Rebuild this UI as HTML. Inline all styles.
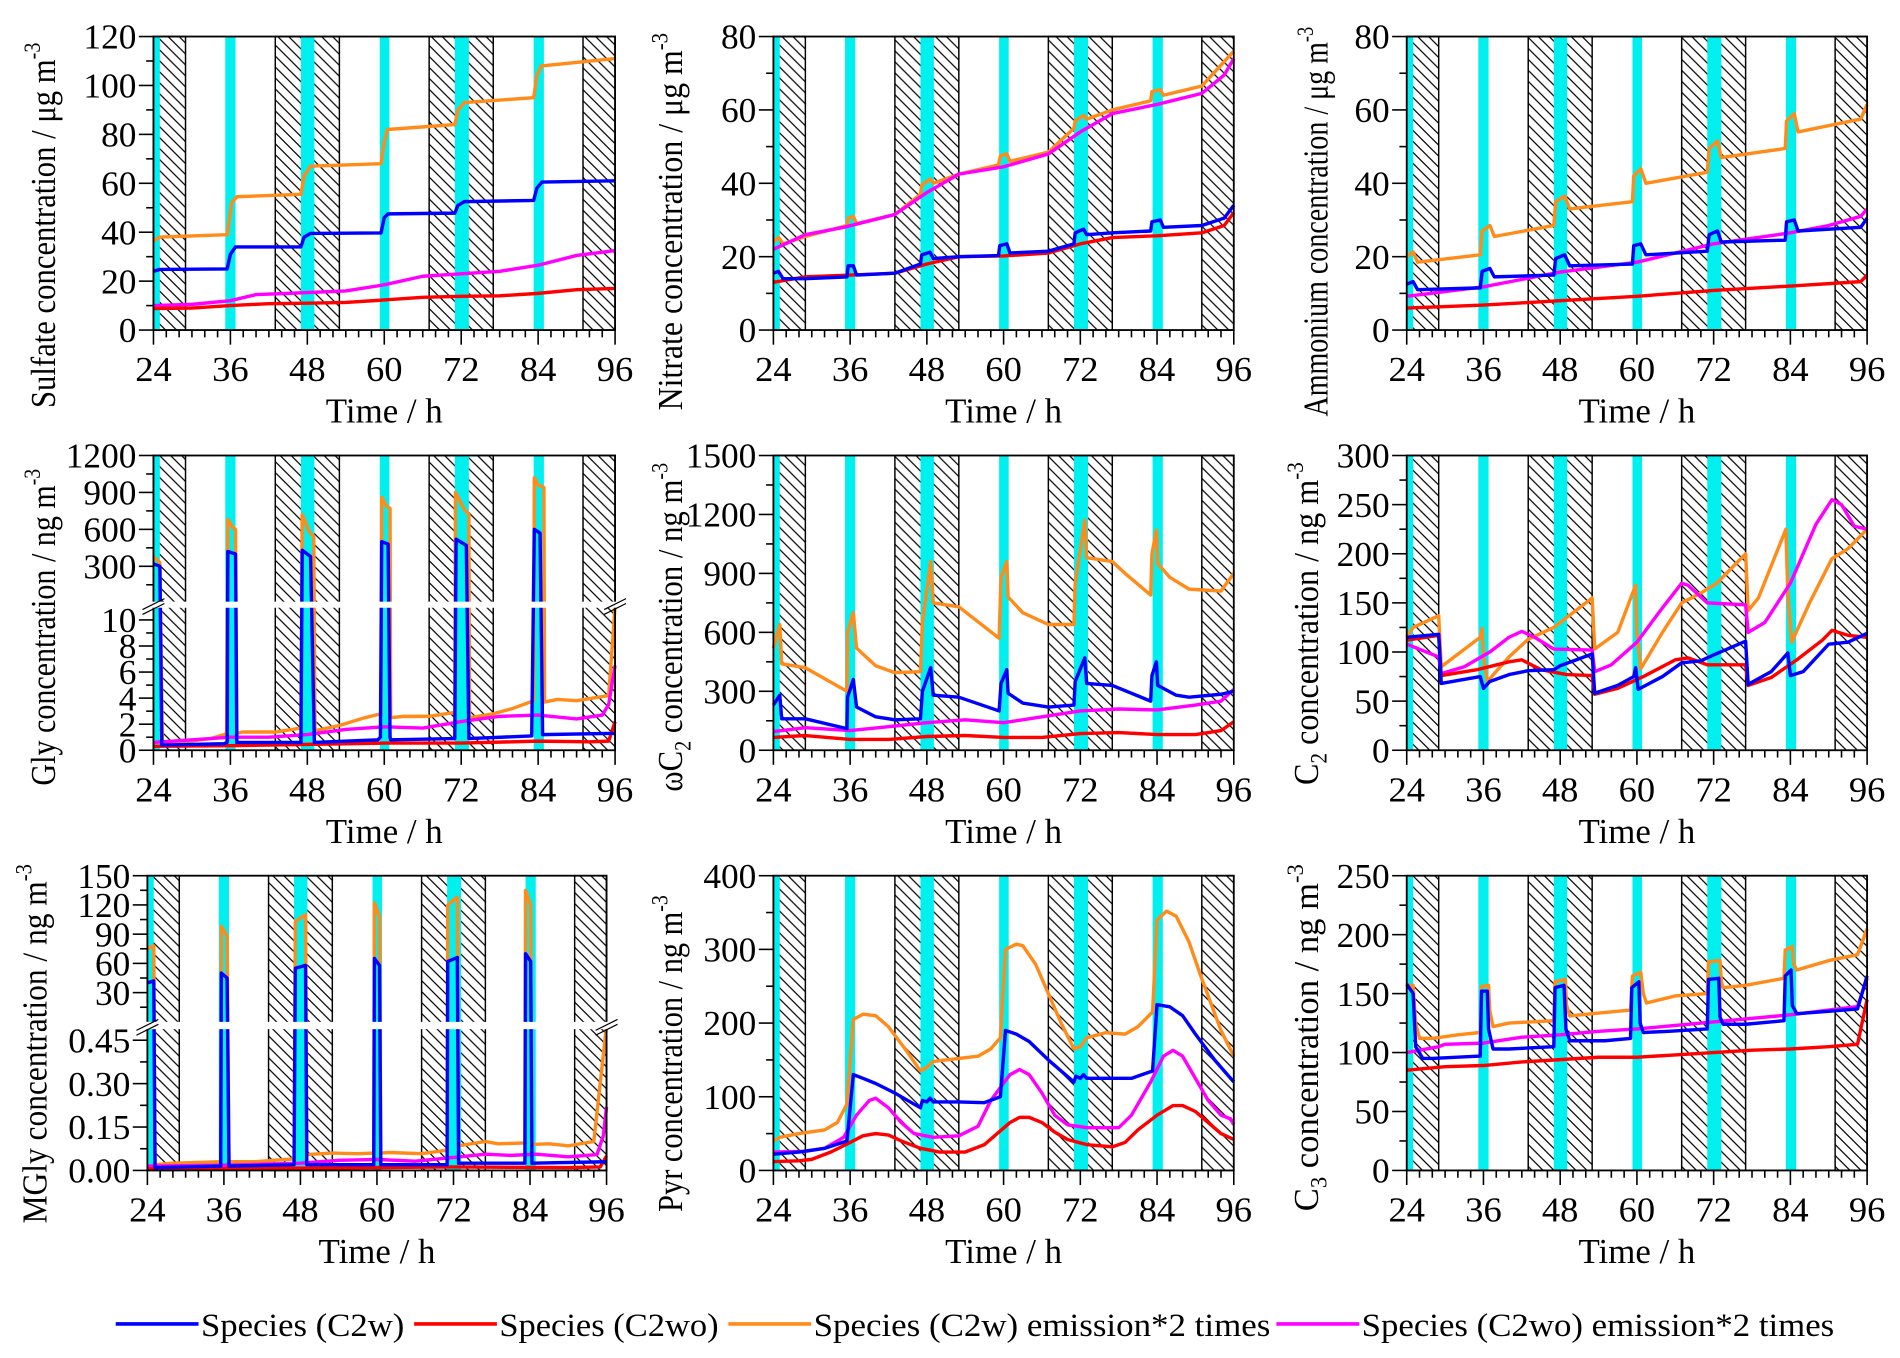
<!DOCTYPE html>
<html><head><meta charset="utf-8"><style>
html,body{margin:0;padding:0;background:#fff;}
svg{display:block;}
text{font-family:"Liberation Serif",serif;fill:#000;}
</style></head><body>
<svg id="fig" width="1900" height="1358" viewBox="0 0 1560 1115" xmlns="http://www.w3.org/2000/svg">
<defs>
<pattern id="hatch" patternUnits="userSpaceOnUse" width="9" height="9">
<path d="M-2,-2 L11,11 M-11,-2 L2,11 M7,-2 L20,11" stroke="#000" stroke-width="1"/>
</pattern>
</defs>
<g id="panels"></g>
<g id="legend">
<line x1="95" y1="1087" x2="163" y2="1087" stroke="#0000ff" stroke-width="3"/>
<text x="165" y="1097" font-size="27" textLength="167" lengthAdjust="spacingAndGlyphs">Species (C2w)</text>
<line x1="340" y1="1087" x2="408" y2="1087" stroke="#ff0000" stroke-width="3"/>
<text x="410" y="1097" font-size="27" textLength="180" lengthAdjust="spacingAndGlyphs">Species (C2wo)</text>
<line x1="598" y1="1087" x2="666" y2="1087" stroke="#ff8c1a" stroke-width="3"/>
<text x="668" y="1097" font-size="27" textLength="375" lengthAdjust="spacingAndGlyphs">Species (C2w) emission*2 times</text>
<line x1="1048" y1="1087" x2="1116" y2="1087" stroke="#ff00ff" stroke-width="3"/>
<text x="1118" y="1097" font-size="27" textLength="388" lengthAdjust="spacingAndGlyphs">Species (C2wo) emission*2 times</text>
</g>
</svg>
<script>
// Shading periods (hours)
const nightPeriods = [[24,29],[43,53],[67,77],[91,96]];
const lightPeriods = [[24,25],[35.2,36.8],[47,49.1],[59.3,60.8],[71,73.2],[83.3,84.9]];
const xTickLabels = [24,36,48,60,72,84,96];

// Sulfate
const sulfate_c2w = [[24,24],[25,24.8],[35.5,25],[36,31],[36.8,34],[47,34],[47.5,38],[48.5,39.5],[59.5,39.7],[60,46],[60.6,47.5],[71,47.8],[71.5,51],[72.5,52.5],[83.3,53],[83.8,58],[84.6,60.5],[96,61]];
const sulfate_c2wo = [[24,8.8],[30,9],[36,10],[42,10.8],[48,11],[54,11.3],[60,12.3],[66,13.4],[72,13.8],[78,14],[84,15],[90,16.5],[96,17]];
const sulfate_c2w_e2 = [[24,36.5],[25,38],[35.5,39],[36.2,52],[37,54.5],[47,55.5],[47.5,63],[48.5,67],[59.5,68],[60,77],[60.5,82],[71,84],[71.5,90],[72.5,93],[83.3,95],[83.8,104],[84.5,108],[96,111]];
const sulfate_c2wo_e2 = [[24,10],[30,10.5],[36,12],[40,14.5],[45,15],[54,16],[60,18.5],[66,22],[72,23],[78,24],[84,26.5],[90,30.5],[96,32.5]];
const sulfate_yticks = [0,20,40,60,80,100,120];

// Nitrate
const nitrate_c2w = [[24,15.5],[24.8,16],[25.5,14],[29,14],[35.5,14.5],[35.7,17.5],[36.5,17.5],[37,15],[43,15.5],[47,18],[47.2,20.5],[48.5,21.2],[49,19.5],[53,20],[59.2,20.3],[59.4,23],[60.5,23.5],[61,21],[67,21.5],[71,23.5],[71.2,26.5],[72.5,27.5],[73,26],[77,26.5],[83,27],[83.2,29.5],[84.5,30],[85,28],[91,28.5],[94.5,30.5],[96,34]];
const nitrate_c2wo = [[24,13],[29,14.5],[36,15],[43,15.5],[48,18],[53,20],[60,20.2],[67,21],[72,23.5],[77,25.2],[84,25.7],[91,26.5],[94.5,28.5],[96,32]];
const nitrate_c2w_e2 = [[24,24],[24.8,25.3],[25.5,23.5],[29,25.5],[35.5,28.5],[35.7,30.5],[36.5,31],[37,29],[43,31.5],[47,37],[47.2,39.5],[48.5,41.2],[49,40],[53,42.5],[59.2,45],[59.5,47.5],[60.5,48],[61,46],[67,48.5],[71,55],[71.2,57],[72.5,58.5],[73,57.5],[77,60],[83,62.5],[83.2,65],[84.5,65.5],[85,64],[91,66.5],[96,76]];
const nitrate_c2wo_e2 = [[24,22],[29,26],[35,28],[43,31.5],[48,37.5],[53,42.5],[60,44.5],[67,48],[72,54],[77,59],[84,61.5],[91,64.5],[94.5,69.5],[96,74]];
const nitrate_yticks = [0,20,40,60,80];

// Ammonium
const ammonium_c2w = [[24,12.5],[25,13.2],[25.7,11],[35.5,11.5],[35.8,16],[37,16.8],[37.7,14.5],[47,15],[47.3,19.5],[48.7,20.5],[49.5,17.5],[59.3,18],[59.5,23],[60.6,23.5],[61.4,20.5],[71,21.5],[71.3,26],[72.6,27],[73.2,24],[83.2,24.5],[83.4,29.5],[84.6,30],[85.2,27],[95,28],[96,30.5]];
const ammonium_c2wo = [[24,6],[36,6.8],[48,8],[60,9.2],[72,10.8],[84,12],[95,13.2],[96,15]];
const ammonium_c2w_e2 = [[24,20],[25,21.3],[25.7,18.5],[35.5,20.5],[35.8,27],[37,28.5],[37.7,25.5],[47,28.5],[47.3,35],[48.7,36.5],[49.5,33],[59.3,35],[59.5,42],[60.6,44],[61.4,40],[71,43],[71.3,49.5],[72.6,51.5],[73.2,47],[83.2,49.5],[83.4,57],[84.6,59],[85.2,54],[95,57.5],[96,61.5]];
const ammonium_c2wo_e2 = [[24,9.2],[36,11.8],[48,15.8],[60,18.5],[72,23.5],[84,26.5],[90,28.5],[95,31],[96,33]];
const ammonium_yticks = [0,20,40,60,80];

// Gly (broken axis)
const gly_c2w = [[24,320],[25,300],[25.3,0.4],[35,0.5],[35.5,0.6],[35.6,420],[36.8,400],[37,0.6],[47,0.6],[47.2,430],[48.5,380],[49.1,0.6],[59,0.8],[59.4,1],[59.6,500],[60.6,480],[60.9,1],[61,0.8],[71,0.9],[71.2,520],[72.8,470],[73.2,0.9],[83,1.1],[83.4,600],[84.3,570],[84.7,1.2],[96,1.3]];
const gly_c2wo = [[24,0.3],[36,0.35],[48,0.45],[60,0.55],[72,0.55],[84,0.7],[92,0.65],[95,0.7],[96,2.2]];
const gly_c2w_e2 = [[24,380],[25,330],[25.4,0.5],[28,0.6],[33,0.9],[35,1.2],[35.4,1.3],[35.6,680],[36.3,620],[36.8,600],[37,1.3],[38,1.4],[43,1.4],[47,1.7],[47.2,720],[48.3,580],[49,540],[49.2,1.5],[53,1.9],[57,2.5],[59.5,2.8],[59.6,860],[60.3,790],[60.9,770],[61,2.5],[63,2.6],[67,2.6],[71,2.9],[71.1,900],[72.5,760],[73.2,720],[73.3,2.5],[77,2.8],[80,3.2],[83.3,3.8],[83.4,1020],[84,960],[84.9,940],[85,3.7],[87,3.9],[90,3.8],[95,4.2],[96,11]];
const gly_c2wo_e2 = [[24,0.6],[30,0.8],[36,1.0],[42,1.0],[48,1.2],[54,1.6],[60,1.8],[66,1.7],[72,2.2],[78,2.6],[84,2.7],[90,2.4],[94,2.7],[95,3.5],[96,6.5]];
const gly_yticks_low = [0,2,4,6,8,10];
const gly_yticks_high = [300,600,900,1200];

// omega C2
const wc2_c2w = [[24,230],[25,280],[25.3,160],[29,160],[35.5,110],[35.6,270],[36.5,360],[37,220],[40,170],[43,155],[47,160],[47.3,300],[48.6,420],[49,280],[53,270],[59.3,200],[59.6,340],[60.5,410],[60.7,290],[63,240],[67,220],[71,230],[71.2,350],[72.7,470],[73,340],[77,330],[83,250],[83.2,380],[83.9,450],[84.1,330],[87,280],[89,270],[94,285],[96,300]];
const wc2_c2wo = [[24,65],[29,75],[36,55],[42,55],[48,70],[54,75],[60,65],[66,65],[72,85],[78,90],[84,80],[90,80],[94,100],[96,145]];
const wc2_c2w_e2 = [[24,520],[25,640],[25.3,440],[29,420],[35.5,300],[35.6,600],[36.5,700],[37,520],[40,430],[43,395],[47,400],[47.3,650],[48.6,960],[49,750],[53,730],[59.3,570],[59.6,880],[60.5,960],[60.7,780],[63,700],[67,640],[71,640],[71.2,850],[72.7,1170],[73,980],[77,960],[79,900],[83,790],[83.2,1000],[83.9,1120],[84.1,950],[86,880],[89,820],[94,810],[96,900]];
const wc2_c2wo_e2 = [[24,95],[29,115],[36,100],[42,120],[48,140],[54,155],[60,140],[66,170],[72,200],[78,210],[84,205],[90,230],[94,250],[96,310]];
const wc2_yticks = [0,300,600,900,1200,1500];

// C2
const c2_c2w = [[24,115],[29,118],[29.4,68],[35.5,75],[36,63],[37,70],[40,77],[43,81],[47,82],[48,86],[53,98],[53.4,58],[57,66],[59.5,75],[59.8,84],[60.2,62],[64,75],[67,89],[70,91],[72,97],[77,111],[77.4,67],[81,80],[83.6,99],[84,76],[86,80],[90,108],[93,110],[96,119]];
const c2_c2wo = [[24,112],[29,117],[29.4,76],[35,82],[40,90],[42,92],[45,82],[49,77],[53,76],[53.4,57],[57,63],[61,75],[66,92],[68,94],[71,87],[77,87],[77.4,66],[81,74],[85,92],[89,112],[90.5,122],[93,117],[96,115]];
const c2_c2w_e2 = [[24,115],[25,125],[29,137],[29.4,85],[35.5,115],[35.8,124],[36,95],[36.6,70],[40,95],[43,113],[47,125],[53,155],[53.4,103],[57,120],[59.8,168],[60,120],[60.6,83],[64,120],[67,150],[70,160],[72.5,170],[77,200],[77.4,142],[79,155],[83.3,225],[83.6,160],[84.2,110],[87,150],[90.5,195],[93,205],[96,225]];
const c2_c2wo_e2 = [[24,108],[29,95],[29.4,78],[33,85],[37,100],[40,115],[42,121],[44,115],[47,103],[53,102],[53.4,80],[56,87],[60,110],[64,145],[67,170],[68,168],[71,150],[77,148],[77.4,120],[80,130],[84,170],[88,230],[90.5,255],[92,250],[94,228],[96,225]];
const c2_yticks = [0,50,100,150,200,250,300];

// MGly (broken axis)
const mgly_c2w = [[24,40],[25,42],[25.2,0.01],[35.5,0.015],[35.6,50],[36.5,45],[36.8,0.015],[47,0.02],[47.2,55],[48.8,58],[49,0.02],[59.5,0.02],[59.6,65],[60.4,58],[60.6,0.02],[71,0.02],[71.1,62],[72.6,66],[72.8,0.025],[83.2,0.025],[83.3,70],[84.1,62],[84.3,0.025],[96,0.03]];
const mgly_c2wo = [[24,0.005],[48,0.008],[72,0.012],[90,0.01],[95,0.012],[96,0.05]];
const mgly_c2w_e2 = [[24,75],[25,78],[25.2,0.02],[28,0.025],[35.5,0.03],[35.6,98],[36.5,88],[36.8,0.03],[41,0.03],[47,0.04],[47.2,103],[48.8,110],[49,0.055],[53,0.06],[57,0.058],[59.5,0.06],[59.6,122],[60.4,108],[60.6,0.06],[62,0.062],[67,0.058],[71,0.07],[71.1,120],[72.6,128],[72.8,0.085],[77,0.1],[79,0.092],[83.2,0.095],[83.3,135],[84.1,120],[84.3,0.09],[87,0.092],[90,0.085],[94,0.1],[96,0.5]];
const mgly_c2wo_e2 = [[24,0.015],[36,0.018],[48,0.025],[54,0.035],[60,0.038],[66,0.032],[72,0.045],[77,0.056],[81,0.052],[85,0.056],[90,0.047],[94.5,0.055],[95.5,0.12],[96,0.22]];
const mgly_yticks_low = [0,0.15,0.30,0.45];
const mgly_yticks_high = [30,60,90,120,150];

// Pyr
const pyr_c2w = [[24,22],[28,25],[32,30],[35.5,40],[36.5,130],[38,125],[40,118],[43,105],[47,85],[47.3,95],[48,93],[48.5,98],[49,93],[53,93],[57,92],[59.5,100],[60.3,190],[62,185],[64,175],[67,150],[71,120],[71.3,128],[72,125],[72.5,130],[73,125],[77,125],[80,125],[83.3,135],[84,225],[86,222],[88,210],[90,185],[93,150],[96,120]];
const pyr_c2wo = [[24,12],[28,13],[30,15],[33,25],[36,38],[38,47],[40,50],[42,48],[44,40],[47,30],[50,25],[54,25],[57,35],[59,50],[61,65],[62.5,72],[64,72],[66,65],[68,52],[70,42],[73,35],[77,32],[79,38],[81,55],[84,75],[86.5,88],[88,88],[90,80],[92,65],[94,50],[96,42]];
const pyr_c2w_e2 = [[24,40],[25,45],[28,50],[32,55],[34,65],[35.5,90],[36.5,205],[38,212],[40,210],[42,195],[45,160],[47,135],[48,140],[49,148],[53,152],[56,155],[58,165],[59.5,180],[60.3,300],[62,307],[63,305],[65,280],[67,240],[69,200],[71,165],[72,168],[73,180],[76,187],[79,185],[81,195],[83.3,215],[84,340],[85.5,352],[87,345],[89,310],[91,260],[94,190],[96,155]];
const pyr_c2wo_e2 = [[24,25],[29,26],[32,30],[35,45],[37,75],[39,95],[40,98],[42,85],[44,65],[46,50],[49,45],[53,47],[56,60],[58,95],[61,130],[62.5,137],[64,130],[66,105],[68,75],[70,62],[73,58],[78,58],[80,75],[83,120],[85,155],[86.5,163],[88,155],[90,125],[92,95],[94,75],[95.5,70],[96,62]];
const pyr_yticks = [0,100,200,300,400];

// C3
const c3_c2w = [[24,158],[25,150],[25.4,105],[26.5,95],[28,95],[35.5,97],[35.7,152],[36.6,152],[36.8,120],[37.5,103],[40,103],[47,105],[47.2,155],[48.6,157],[48.9,120],[49.5,110],[55,110],[59,112],[59.2,155],[60.3,160],[60.5,125],[61,117],[65,118],[71,120],[71.2,162],[72.8,163],[73,130],[73.5,124],[77,124],[83,127],[83.2,165],[84.1,170],[84.3,140],[85,133],[90,135],[94.5,137],[96,165]];
const c3_c2wo = [[24,85],[30,88],[36,89],[42,92],[48,94],[54,96],[60,96],[66,98],[72,100],[78,102],[84,103],[90,105],[94.5,107],[96,145]];
const c3_c2w_e2 = [[24,157],[25,157],[25.4,125],[26,112],[28,112],[32,115],[35.5,117],[35.7,156],[36.8,157],[37,135],[37.5,122],[40,125],[47,127],[47.2,160],[48.8,162],[49,140],[49.5,131],[53,133],[59,136],[59.3,165],[60.6,168],[61,150],[61.5,142],[66,148],[71,150],[71.2,177],[73,178],[73.2,160],[73.5,155],[77,157],[83,163],[83.2,187],[84.3,190],[84.5,175],[85,170],[90,178],[94.5,183],[96,205]];
const c3_c2wo_e2 = [[24,100],[29,105],[30,107],[36,108],[42,113],[48,115],[54,118],[60,120],[66,123],[72,126],[78,129],[84,132],[90,136],[94.5,139],[96,163]];
const c3_yticks = [0,50,100,150,200,250];

const NS = "http://www.w3.org/2000/svg";
const COLORS = {c2w:"#0000ff", c2wo:"#ff0000", c2we:"#ff8c1a", c2woe:"#ff00ff"};

function mk(tag, attrs, parent){
  const e = document.createElementNS(NS, tag);
  for (const k in attrs) e.setAttribute(k, attrs[k]);
  if (parent) parent.appendChild(e);
  return e;
}

function linearY(y0, y1, vmax){ return v => y0 - (v / vmax) * (y0 - y1); }

const panels = [
  {id:"sulfate", x0:126, x1:505, y0:271, y1:30, yf:linearY(271,30,120), ticks:sulfate_yticks, minor:10, dec:0,
   series:[sulfate_c2w_e2, sulfate_c2wo_e2, sulfate_c2wo, sulfate_c2w], title:["Sulfate concentration / μg m","-3"], tx:45, tcy:185, tlen:300},
  {id:"nitrate", x0:635, x1:1013, y0:271, y1:30, yf:linearY(271,30,80), ticks:nitrate_yticks, minor:10, dec:0,
   series:[nitrate_c2w_e2, nitrate_c2wo_e2, nitrate_c2wo, nitrate_c2w], title:["Nitrate concentration / μg m","-3"], tx:560, tcy:182, tlen:310},
  {id:"ammonium", x0:1155, x1:1533, y0:271, y1:30, yf:linearY(271,30,80), ticks:ammonium_yticks, minor:10, dec:0,
   series:[ammonium_c2w_e2, ammonium_c2wo_e2, ammonium_c2wo, ammonium_c2w], title:["Ammonium concentration / μg m","-3"], tx:1090, tcy:182, tlen:320},
  {id:"gly", x0:126, x1:505, y0:616, y1:374, broken:{gapTop:494, gapBot:499},
   yf: v => v <= 11 ? 616 - v*10.7 : 495.3 - v*0.1011,
   lowTicks:gly_yticks_low, lowMinor:[1,3,5,7,9], highTicks:gly_yticks_high, highMinor:[150,450,750,1050], dec:0,
   series:[gly_c2w_e2, gly_c2wo_e2, gly_c2wo, gly_c2w], title:["Gly concentration / ng m","-3"], tx:45, tcy:515, tlen:260},
  {id:"wc2", x0:635, x1:1013, y0:616, y1:374, yf:linearY(616,374,1500), ticks:wc2_yticks, minor:150, dec:0,
   series:[wc2_c2w_e2, wc2_c2wo_e2, wc2_c2wo, wc2_c2w], title:["ωC","2"," concentration / ng m","-3"], tx:560, tcy:515, tlen:270, sub:true},
  {id:"c2", x0:1155, x1:1533, y0:616, y1:374, yf:linearY(616,374,300), ticks:c2_yticks, minor:25, dec:0,
   series:[c2_c2w_e2, c2_c2wo_e2, c2_c2wo, c2_c2w], title:["C","2"," concentration / ng m","-3"], tx:1082, tcy:512, tlen:265, sub:true},
  {id:"mgly", x0:121, x1:498, y0:961, y1:719, broken:{gapTop:839, gapBot:845},
   yf: v => v <= 0.5 ? 961 - v*237.6 : 839 - v*0.8,
   lowTicks:mgly_yticks_low, lowMinor:[0.075,0.225,0.375], highTicks:mgly_yticks_high, highMinor:[15,45,75,105,135], dec:2,
   series:[mgly_c2w_e2, mgly_c2wo_e2, mgly_c2wo, mgly_c2w], title:["MGly concentration / ng m","-3"], tx:38, tcy:857, tlen:295},
  {id:"pyr", x0:635, x1:1013, y0:961, y1:719, yf:linearY(961,719,400), ticks:pyr_yticks, minor:50, dec:0,
   series:[pyr_c2w_e2, pyr_c2wo_e2, pyr_c2wo, pyr_c2w], title:["Pyr concentration / ng m","-3"], tx:560, tcy:865, tlen:260},
  {id:"c3", x0:1155, x1:1533, y0:961, y1:719, yf:linearY(961,719,250), ticks:c3_yticks, minor:25, dec:0,
   series:[c3_c2w_e2, c3_c2wo_e2, c3_c2wo, c3_c2w], title:["C","3"," concentration / ng m","-3"], tx:1082, tcy:852, tlen:285, sub:true}
];
const seriesKeys = ["c2we","c2woe","c2wo","c2w"];

const root = document.getElementById("panels");
panels.forEach(p => {
  const g = mk("g", {}, root);
  
  
  const xf = t => p.x0 + (t - 24) / 72 * (p.x1 - p.x0);
  const H = p.y0 - p.y1;

  nightPeriods.forEach(n => {
    const r = mk("rect", {x:xf(n[0]), y:p.y1, width:xf(n[1])-xf(n[0]), height:H, fill:"url(#hatch)", stroke:"#000", "stroke-width":1.2}, g);
    
    
  });
  lightPeriods.forEach(n => {
    const r = mk("rect", {x:xf(n[0]), y:p.y1, width:xf(n[1])-xf(n[0]), height:H, fill:"#00f0f0"}, g);
    
    
  });

  p.series.forEach((s, i) => {
    const d = s.map((pt, j) => (j ? "L" : "M") + xf(pt[0]).toFixed(2) + "," + p.yf(pt[1]).toFixed(2)).join(" ");
    const path = mk("path", {d:d, fill:"none", stroke:COLORS[seriesKeys[i]], "stroke-width":2.8, "stroke-linejoin":"round"}, g);
    
    
  });

  const fr = mk("rect", {x:p.x0, y:p.y1, width:p.x1-p.x0, height:H, fill:"none", stroke:"#000", "stroke-width":1.5}, g);
  
  

  if (p.broken) {
    const gap = mk("rect", {x:p.x0-14, y:p.broken.gapTop, width:p.x1-p.x0+30, height:p.broken.gapBot-p.broken.gapTop, fill:"#fff"}, g);
    
    
    const mid = (p.broken.gapTop + p.broken.gapBot)/2;
    [p.x0, p.x1].forEach(bx => {
      mk("line", {x1:bx-9, y1:mid+4, x2:bx+9, y2:mid-5, stroke:"#000", "stroke-width":1}, g);
      mk("line", {x1:bx-9, y1:mid+8, x2:bx+9, y2:mid-1, stroke:"#000", "stroke-width":1}, g);
    });
  }

  for (let t = 24; t <= 96; t += 2) {
    const major = (t - 24) % 12 === 0;
    mk("line", {x1:xf(t), y1:p.y0, x2:xf(t), y2:p.y0 + (major ? 12 : 6), stroke:"#000", "stroke-width":1.3}, g);
  }
  xTickLabels.forEach(t => {
    const tx = mk("text", {x:xf(t), y:p.y0 + 42, "font-size":29, "text-anchor":"middle", textLength:30, lengthAdjust:"spacingAndGlyphs"}, g);
    tx.textContent = t;
    
    
  });
  const xt = mk("text", {x:(p.x0+p.x1)/2, y:p.y0 + 76, "font-size":29, "text-anchor":"middle", textLength:96, lengthAdjust:"spacingAndGlyphs"}, g);
  xt.textContent = "Time / h";
  
  

  const yTick = (v, major, dec) => {
    const y = p.yf(v);
    mk("line", {x1:p.x0 - (major ? 12 : 6), y1:y, x2:p.x0, y2:y, stroke:"#000", "stroke-width":1.3}, g);
    if (major) {
      const s = v.toFixed(dec);
      const lb = mk("text", {x:p.x0 - 14, y:y + 10, "font-size":29, "text-anchor":"end", textLength:s.length*14.5 - (s.indexOf('.')>=0 ? 7 : 0), lengthAdjust:"spacingAndGlyphs"}, g);
      lb.textContent = s;
      
      
    }
  };
  if (p.broken) {
    p.lowTicks.forEach(v => yTick(v, true, p.dec));
    p.lowMinor.forEach(v => yTick(v, false, p.dec));
    p.highTicks.forEach(v => yTick(v, true, 0));
    p.highMinor.forEach(v => yTick(v, false, 0));
  } else {
    const vmax = p.ticks[p.ticks.length-1];
    p.ticks.forEach(v => yTick(v, true, p.dec));
    for (let v = p.minor; v < vmax; v += p.minor * 2) yTick(v, false, 0);
  }

  const yt = mk("text", {x:0, y:0, "font-size":29, "text-anchor":"middle", textLength:p.tlen, lengthAdjust:"spacingAndGlyphs", transform:`translate(${p.tx},${p.tcy}) rotate(-90)`}, g);
  
  
  if (p.sub) {
    const a = mk("tspan", {}, yt); a.textContent = p.title[0];
    const b = mk("tspan", {dy:7, "font-size":19}, yt); b.textContent = p.title[1];
    const c = mk("tspan", {dy:-7}, yt); c.textContent = p.title[2];
    const d = mk("tspan", {dy:-12, "font-size":19}, yt); d.textContent = p.title[3];
  } else {
    const a = mk("tspan", {}, yt); a.textContent = p.title[0];
    const d = mk("tspan", {dy:-12, "font-size":19}, yt); d.textContent = p.title[1];
  }
});
</script>
</body></html>
